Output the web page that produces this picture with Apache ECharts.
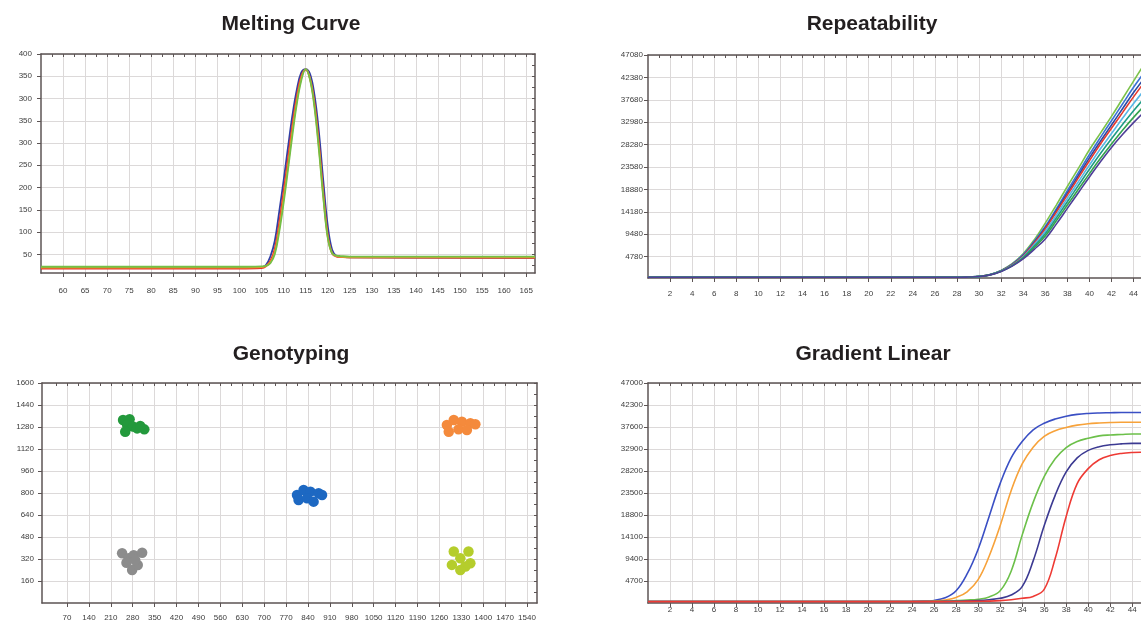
<!DOCTYPE html>
<html><head><meta charset="utf-8">
<script src="https://cdn.jsdelivr.net/npm/echarts@6/dist/echarts.min.js"></script>
<style>html,body{margin:0;padding:0;background:#fff}#c{width:1141px;height:622px}</style>
</head><body><div id="c"></div>
<script>
// ---------- Melting Curve ----------
const meltXTicks = [60,65,70,75,80,85,90,95,100,105,110,115,120,125,130,135,140,145,150,155,160,165];
const meltXLabels = meltXTicks.map(String);
const meltYTicks = [50,100,150,200,250,300,350,400,450,500];
const meltYLabels = ['50','100','150','200','250','300','350','300','350','400'];
const meltX = [55,100,105,106,107,108,109,110,111,112,113,114,115,116,117,118,119,120,121,122,123,125,167];
const meltBlue   = [20,20,21,26,45,80,145,215,290,362,420,458,466,455,408,325,215,115,60,46,44,43,42];
const meltRed    = [18,18,19,23,35,62,120,190,265,340,405,450,465,445,390,300,190,95,52,45,44,43,42];
const meltOrange = [20,20,21,24,32,55,108,175,250,328,395,445,466,444,385,292,182,90,52,46,44,43,43];
const meltGreen  = [22,22,23,24,30,50,100,165,240,318,388,440,466,442,380,285,178,88,52,47,46,45,45];

// ---------- Repeatability ----------
const repXTicks = [2,4,6,8,10,12,14,16,18,20,22,24,26,28,30,32,34,36,38,40,42,44];
const repXLabels = repXTicks.map(String);
const repYTicks = [4780,9480,14180,18880,23580,28280,32980,37680,42380,47080];
const repYLabels = repYTicks.map(String);
const repX = [0,28,29,30,31,32,33,34,35,36,37,38,39,40,41,42,43,44,45,46];
const repLightGreen = [450,450,500,650,1050,1900,3300,5400,8300,11800,15600,19500,23300,27200,30700,34200,37900,41600,45300,48800];
const repBlue       = [450,450,500,640,1020,1850,3200,5200,8000,11100,14800,18600,22400,26200,29800,33300,36800,40300,43500,46600];
const repNavy       = [450,450,500,630,1000,1800,3100,5000,7800,10800,14400,18100,21800,25500,29000,32400,35800,39200,42300,45300];
const repRed        = [450,450,500,630,990,1780,3050,4900,7600,10600,14100,17700,21300,24900,28400,31700,35000,38300,41400,44300];
const repCyan       = [450,450,500,620,980,1750,2950,4750,7300,10100,13500,17000,20500,24000,27400,30600,33800,36900,39800,42600];
const repTeal       = [450,450,500,620,970,1720,2900,4600,7000,9600,12900,16300,19700,23100,26400,29500,32500,35400,38100,40700];
const repGreen      = [450,450,500,610,960,1700,2850,4450,6700,9100,12300,15600,18900,22200,25400,28400,31300,34000,36500,38900];
const repPurple     = [450,450,500,600,950,1680,2800,4300,6300,8500,11600,14900,18200,21500,24700,27700,30400,32900,35200,37400];

// ---------- Genotyping ----------
const genoXTicks = [70,140,210,280,350,420,490,560,630,700,770,840,910,980,1050,1120,1190,1260,1330,1400,1470,1540];
const genoXLabels = genoXTicks.map(String);
const genoYTicks = [160,320,480,640,800,960,1120,1280,1440,1600];
const genoYLabels = genoYTicks.map(String);
const genoGreen  = [[249,1331],[270,1336],[262,1295],[281,1283],[256,1246],[294,1270],[317,1263],[304,1287]];
const genoGray   = [[246,362],[267,326],[283,348],[310,366],[260,293],[278,240],[296,276],[288,312]];
const genoBlue   = [[805,786],[826,822],[848,810],[874,798],[810,749],[837,762],[858,737],[885,786]];
const genoOrange = [[1284,1295],[1306,1331],[1332,1319],[1359,1307],[1290,1246],[1321,1263],[1348,1258],[1375,1300]];
const genoLime   = [[1306,374],[1353,374],[1327,326],[1300,277],[1343,265],[1327,240],[1359,289]];

// ---------- Gradient Linear ----------
const gradXTicks = repXTicks;
const gradXLabels = repXLabels;
const gradYTicks = [4700,9400,14100,18800,23500,28200,32900,37600,42300,47000];
const gradYLabels = gradYTicks.map(String);
const gradX = [0,22,23,24,25,26,27,28,29,30,31,32,33,34,35,36,37,38,39,40,41,42,43,44,45,46];
const gradBlue   = [300,300,320,350,400,550,1100,2600,6200,11500,18500,25500,31000,34500,37000,38400,39300,39900,40300,40500,40600,40650,40700,40700,40700,40700];
const gradOrange = [300,300,300,320,350,420,650,1200,2400,5000,10000,16500,24000,29700,33300,35600,36800,37500,38000,38300,38450,38550,38600,38600,38600,38600];
const gradGreen  = [300,300,300,300,320,350,400,500,620,800,1300,2600,6800,14500,21500,27000,30800,33200,34500,35200,35700,35900,36000,36100,36100,36100];
const gradNavy   = [300,300,300,300,300,320,340,360,400,500,700,1000,1700,3500,9000,16500,23000,28000,31000,32600,33400,33800,34000,34100,34100,34100];
const gradRed    = [300,300,300,300,300,300,300,320,340,360,400,500,700,1000,1400,2900,9500,18500,25500,28700,30600,31500,31950,32150,32200,32200];

// ---------- layout helpers ----------
const AXIS = '#5c5454', GRIDC = '#dcd9d9', LBL = '#3c3c3c', FONT = 'Liberation Sans';
const grids = [], xAxes = [], yAxes = [], series = [];
function labelMap(vals, labs) { const m = {}; vals.forEach((v, i) => { m[v] = labs[i]; }); return v => (m[v] !== undefined ? m[v] : ''); }
function halfSteps(vals) {
  const out = [];
  const step = vals[1] - vals[0];
  out.push(vals[0] - step / 2);
  vals.forEach(v => { out.push(v); out.push(v + step / 2); });
  return out;
}
function addPanel(rect, xs, ys, showRight) {
  const gi = grids.length;
  grids.push(Object.assign({ show: false }, rect));
  xAxes.push({ type: 'value', gridIndex: gi, position: 'bottom', min: xs.min, max: xs.max,
    axisLine: { show: true, onZero: false, lineStyle: { color: AXIS, width: 1.5 } },
    axisTick: { show: true, inside: false, length: 4, customValues: xs.vals, lineStyle: { color: AXIS } },
    axisLabel: { show: true, customValues: xs.vals, formatter: labelMap(xs.vals, xs.labels), color: LBL, fontSize: 8, fontFamily: FONT, margin: xs.margin },
    splitLine: { show: true, lineStyle: { color: GRIDC, width: 1 } } });
  xAxes.push({ type: 'value', gridIndex: gi, position: 'top', min: xs.min, max: xs.max,
    axisLine: { show: true, onZero: false, lineStyle: { color: AXIS, width: 1.5 } },
    axisTick: { show: true, inside: true, length: 3, customValues: halfSteps(xs.vals), lineStyle: { color: AXIS } },
    axisLabel: { show: false }, splitLine: { show: false } });
  yAxes.push({ type: 'value', gridIndex: gi, position: 'left', min: ys.min, max: ys.max,
    axisLine: { show: true, onZero: false, lineStyle: { color: AXIS, width: 1.5 } },
    axisTick: { show: true, inside: false, length: 4, customValues: ys.vals, lineStyle: { color: AXIS } },
    axisLabel: { show: true, customValues: ys.vals, formatter: labelMap(ys.vals, ys.labels), color: LBL, fontSize: 8, fontFamily: FONT, margin: ys.margin },
    splitLine: { show: true, lineStyle: { color: GRIDC, width: 1 } } });
  yAxes.push({ type: 'value', gridIndex: gi, position: 'right', min: ys.min, max: ys.max, show: showRight,
    axisLine: { show: true, onZero: false, lineStyle: { color: AXIS, width: 1.5 } },
    axisTick: { show: true, inside: true, length: 3, customValues: halfSteps(ys.vals), lineStyle: { color: AXIS } },
    axisLabel: { show: false }, splitLine: { show: false } });
  return gi * 2;
}
function lineSeries(ai, xs, ys, color, width) {
  series.push({ type: 'line', xAxisIndex: ai, yAxisIndex: ai, data: xs.map((x, i) => [x, ys[i]]),
    smooth: 0.4, showSymbol: false, lineStyle: { color: color, width: width || 1.6 }, itemStyle: { color: color } });
}
function scatterSeries(ai, pts, color) {
  series.push({ type: 'scatter', xAxisIndex: ai, yAxisIndex: ai, data: pts, symbolSize: 10.5, itemStyle: { color: color, opacity: 1 } });
}

// Panel 1
const a0 = addPanel({ left: 41, top: 54, width: 494, height: 219 },
  { min: 55, max: 167, vals: meltXTicks, labels: meltXLabels, margin: 14 },
  { min: 8, max: 500, vals: meltYTicks, labels: meltYLabels, margin: 9 }, true);
lineSeries(a0, meltX, meltBlue, '#2f3fa6', 1.8);
lineSeries(a0, meltX, meltRed, '#e3312c', 1.8);
lineSeries(a0, meltX, meltOrange, '#f2962b', 1.8);
lineSeries(a0, meltX, meltGreen, '#74bf45', 1.8);

// Panel 2 (runs past the right edge of the picture)
const a1 = addPanel({ left: 648, top: 55, right: 0, height: 223 },
  { min: 0, max: 44.66, vals: repXTicks, labels: repXLabels, margin: 12 },
  { min: 300, max: 47080, vals: repYTicks, labels: repYLabels, margin: 5 }, false);
lineSeries(a1, repX, repLightGreen, '#7cc24a');
lineSeries(a1, repX, repBlue, '#3b72d4');
lineSeries(a1, repX, repNavy, '#2c4aa2');
lineSeries(a1, repX, repRed, '#e53a2f');
lineSeries(a1, repX, repCyan, '#5ab6e6');
lineSeries(a1, repX, repTeal, '#1f9c86');
lineSeries(a1, repX, repGreen, '#35a34e');
lineSeries(a1, repX, repPurple, '#4f3f98');

// Panel 3
const a2 = addPanel({ left: 42, top: 383, width: 495, height: 220 },
  { min: -10, max: 1572, vals: genoXTicks, labels: genoXLabels, margin: 11 },
  { min: 0, max: 1600, vals: genoYTicks, labels: genoYLabels, margin: 8 }, true);
scatterSeries(a2, genoGreen, '#23993c');
scatterSeries(a2, genoGray, '#8c8c8c');
scatterSeries(a2, genoBlue, '#1d68c2');
scatterSeries(a2, genoOrange, '#f48a3c');
scatterSeries(a2, genoLime, '#b5cd2c');

// Panel 4 (runs past the right edge of the picture)
const a3 = addPanel({ left: 648, top: 383, right: 0, height: 220 },
  { min: 0, max: 44.8, vals: gradXTicks, labels: gradXLabels, margin: 3 },
  { min: 0, max: 47000, vals: gradYTicks, labels: gradYLabels, margin: 5 }, false);
lineSeries(a3, gradX, gradBlue, '#3a4fc4');
lineSeries(a3, gradX, gradOrange, '#f7a23a');
lineSeries(a3, gradX, gradGreen, '#6cc04a');
lineSeries(a3, gradX, gradNavy, '#3c3a92');
lineSeries(a3, gradX, gradRed, '#ee3a34');

const titles = [['Melting Curve', 291, 24], ['Repeatability', 872, 24], ['Genotyping', 291, 354], ['Gradient Linear', 873, 354]];
const graphic = titles.map(t => ({ type: 'text', x: t[1], y: t[2], silent: true,
  style: { text: t[0], align: 'center', verticalAlign: 'middle', fontSize: 21, fontWeight: 'bold', fontFamily: FONT, fill: '#231f20' } }));

const chart = echarts.init(document.getElementById('c'));
chart.setOption({ animation: false, backgroundColor: '#ffffff', grid: grids, xAxis: xAxes, yAxis: yAxes, series: series, graphic: graphic });
</script></body></html>
